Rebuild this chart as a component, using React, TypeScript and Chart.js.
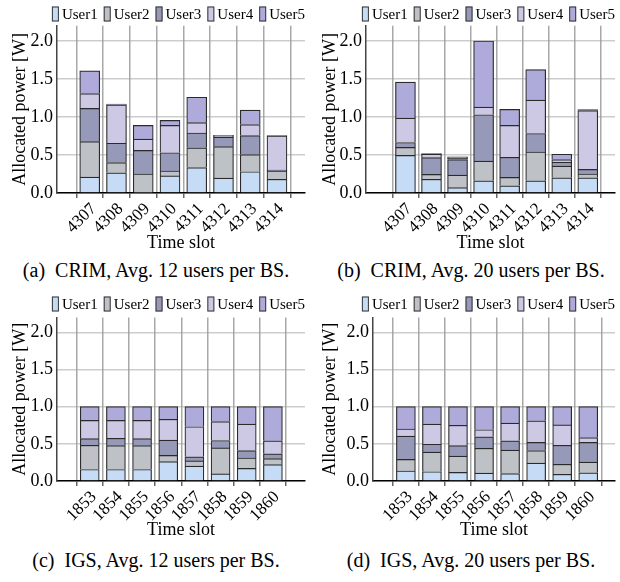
import React, { useEffect, useRef } from "react";
import { Chart, registerables } from "chart.js";
Chart.register(...registerables);

const users = ["User1", "User2", "User3", "User4", "User5"];
const userColors = ["#c6dcf6", "#bec1c6", "#9699b7", "#cdc8e4", "#aeabda"];

const crimSlots = ["4307", "4308", "4309", "4310", "4311", "4312", "4313", "4314"];
const igsSlots = ["1853", "1854", "1855", "1856", "1857", "1858", "1859", "1860"];

// rows: User1..User5, columns: time slots
const crim12 = [
  [0.21, 0.265, 0.01, 0.225, 0.335, 0.195, 0.28, 0.18],
  [0.465, 0.135, 0.24, 0.065, 0.26, 0.415, 0.225, 0.11],
  [0.438, 0.255, 0.31, 0.24, 0.195, 0.125, 0.25, 0.01],
  [0.195, 0.505, 0.15, 0.36, 0.135, 0.015, 0.145, 0.45],
  [0.30, 0.01, 0.18, 0.065, 0.335, 0.01, 0.19, 0.005],
];
const crim20 = [
  [0.495, 0.18, 0.07, 0.16, 0.095, 0.16, 0.2, 0.2],
  [0.105, 0.065, 0.165, 0.26, 0.11, 0.38, 0.155, 0.05],
  [0.065, 0.22, 0.205, 0.61, 0.265, 0.243, 0.05, 0.06],
  [0.32, 0.045, 0.015, 0.10, 0.42, 0.44, 0.035, 0.775],
  [0.475, 0.01, 0.02, 0.87, 0.21, 0.40, 0.07, 0.012],
];
const igs12 = [
  [0.155, 0.155, 0.155, 0.26, 0.2, 0.095, 0.17, 0.22],
  [0.325, 0.32, 0.32, 0.085, 0.07, 0.35, 0.14, 0.08],
  [0.09, 0.1, 0.095, 0.205, 0.055, 0.1, 0.1, 0.065],
  [0.245, 0.24, 0.245, 0.28, 0.405, 0.255, 0.355, 0.175],
  [0.185, 0.185, 0.185, 0.17, 0.27, 0.2, 0.235, 0.46],
];
const igs20 = [
  [0.135, 0.125, 0.115, 0.105, 0.1, 0.24, 0.09, 0.11],
  [0.155, 0.265, 0.22, 0.335, 0.315, 0.17, 0.135, 0.145],
  [0.315, 0.105, 0.14, 0.155, 0.125, 0.11, 0.255, 0.265],
  [0.095, 0.27, 0.275, 0.095, 0.24, 0.29, 0.275, 0.065],
  [0.30, 0.235, 0.25, 0.31, 0.22, 0.19, 0.245, 0.415],
];

const yTicks = [0, 0.5, 1.0, 1.5, 2.0];
const yMax = 2.2;

const FONT = "'Liberation Serif', serif";

const legendPlugin = {
  id: "customLegend",
  afterDraw(chart: any) {
    const ctx = chart.ctx;
    const right = chart.chartArea.right;
    ctx.save();
    ctx.font = "15px " + FONT;
    const items = chart.data.datasets.map((d: any) => ({
      text: d.label,
      w: ctx.measureText(d.label).width,
      color: d.backgroundColor,
    }));
    const boxW = 7, boxH = 15, gap = 3, spacing = 6;
    const total =
      items.reduce((s: number, it: any) => s + boxW + gap + it.w, 0) + spacing * (items.length - 1);
    let x = right - total;
    const y = 14;
    for (const it of items) {
      ctx.fillStyle = it.color;
      ctx.fillRect(x, y - boxH / 2, boxW, boxH);
      ctx.strokeStyle = "#333";
      ctx.lineWidth = 1;
      ctx.strokeRect(x + 0.5, y - boxH / 2 + 0.5, boxW - 1, boxH - 1);
      ctx.fillStyle = "#000";
      ctx.textBaseline = "middle";
      ctx.textAlign = "left";
      ctx.fillText(it.text, x + boxW + gap, y + 1);
      x += boxW + gap + it.w + spacing;
    }
    ctx.restore();
  },
};

type PanelProps = {
  left: number;
  top: number;
  height: number;
  yw: number;
  padTop: number;
  plotBottom: number;
  xmin: number;
  xmax: number;
  bar: number;
  titlePad: number;
  labels: string[];
  values: number[][];
};

function Panel(p: PanelProps) {
  const ref = useRef<HTMLCanvasElement>(null);
  useEffect(() => {
    let chart: any = null;
    let cancelled = false;
    const make = () => {
      if (cancelled || !ref.current) return;
      const xh = p.height - p.plotBottom;
      chart = new Chart(ref.current, {
        type: "bar",
        data: {
          datasets: users.map((u, k) => ({
            label: u,
            data: p.values[k].map((v, i) => ({ x: i, y: v })),
            backgroundColor: userColors[k],
            borderColor: "#2a2a2a",
            borderWidth: 1.2,
            barThickness: p.bar,
          })),
        },
        options: {
          responsive: false,
          animation: false,
          events: [],
          layout: { padding: { top: p.padTop, right: 5, left: 0, bottom: 0 } },
          plugins: { legend: { display: false }, tooltip: { enabled: false } },
          scales: {
            x: {
              type: "linear",
              stacked: true,
              min: p.xmin,
              max: p.xmax,
              afterBuildTicks: (axis: any) => {
                axis.ticks = p.labels.map((_, i) => ({ value: i }));
              },
              afterFit: (axis: any) => {
                axis.height = xh;
              },
              ticks: {
                callback: (v: any) => p.labels[v],
                minRotation: 45,
                maxRotation: 45,
                autoSkip: false,
                padding: 1,
                labelOffset: 4,
                color: "#000",
                font: { family: FONT, size: 17 },
              },
              grid: {
                color: "#a8a8a8",
                lineWidth: 1.5,
                drawTicks: true,
                tickLength: 5,
                tickColor: "#666",
              },
              border: { display: true, color: "#000", width: 1.5 },
              title: {
                display: true,
                text: "Time slot",
                color: "#000",
                font: { family: FONT, size: 18 },
                padding: { top: 0, bottom: p.titlePad },
              },
            },
            y: {
              stacked: true,
              min: 0,
              max: yMax,
              afterBuildTicks: (axis: any) => {
                axis.ticks = yTicks.map((v) => ({ value: v }));
              },
              afterFit: (axis: any) => {
                axis.width = p.yw;
              },
              ticks: {
                callback: (v: any) => Number(v).toFixed(1),
                padding: 4,
                color: "#000",
                font: { family: FONT, size: 18 },
              },
              grid: {
                color: "#9a9a9a",
                lineWidth: 1.5,
                drawTicks: false,
              },
              border: { display: true, color: "#444", width: 1.5, dash: [1, 1] },
              title: {
                display: true,
                text: "Allocated power [W]",
                color: "#000",
                font: { family: FONT, size: 18 },
                padding: { top: 9, bottom: 0 },
              },
            },
          },
        } as any,
        plugins: [legendPlugin],
      });
    };
    const fonts: any = (document as any).fonts;
    if (fonts && fonts.load) {
      Promise.all([
        fonts.load("18px 'Liberation Serif'"),
        fonts.load("15px 'Liberation Serif'"),
      ])
        .catch(() => null)
        .then(make);
    } else {
      make();
    }
    return () => {
      cancelled = true;
      if (chart) chart.destroy();
    };
  }, []);
  return (
    <canvas
      ref={ref}
      width={310}
      height={p.height}
      style={{ position: "absolute", left: p.left, top: p.top, width: 310, height: p.height }}
    />
  );
}

function Caption({ cx, cy, text }: { cx: number; cy: number; text: string }) {
  return (
    <div
      style={{
        position: "absolute",
        left: cx - 200,
        top: cy - 12,
        width: 400,
        textAlign: "center",
        fontFamily: FONT,
        fontSize: 20,
        lineHeight: "24px",
        whiteSpace: "pre",
        color: "#000",
      }}
    >
      {text}
    </div>
  );
}

export default function App() {
  return (
    <div
      style={{
        position: "fixed",
        left: 0,
        top: 0,
        width: 620,
        height: 582,
        background: "#fff",
        overflow: "hidden",
        fontFamily: FONT,
      }}
    >
      <Panel left={0} top={0} height={256} yw={57} padTop={25.8} plotBottom={193} xmin={-0.644} xmax={7.468} bar={20} titlePad={2} labels={crimSlots} values={crim12} />
      <Panel left={310} top={0} height={256} yw={56} padTop={25.8} plotBottom={193} xmin={-0.917} xmax={7.447} bar={20} titlePad={2} labels={crimSlots} values={crim20} />
      <Panel left={0} top={290} height={256} yw={57} padTop={27.5} plotBottom={191} xmin={-0.659} xmax={7.635} bar={19} titlePad={5} labels={igsSlots} values={igs12} />
      <Panel left={310} top={290} height={256} yw={63} padTop={27.5} plotBottom={191} xmin={-0.682} xmax={7.447} bar={19} titlePad={5} labels={igsSlots} values={igs20} />
      <Caption cx={156} cy={270} text={"(a)  CRIM, Avg. 12 users per BS."} />
      <Caption cx={471} cy={270} text={"(b)  CRIM, Avg. 20 users per BS."} />
      <Caption cx={156} cy={560} text={"(c)  IGS, Avg. 12 users per BS."} />
      <Caption cx={471} cy={560} text={"(d)  IGS, Avg. 20 users per BS."} />
    </div>
  );
}
